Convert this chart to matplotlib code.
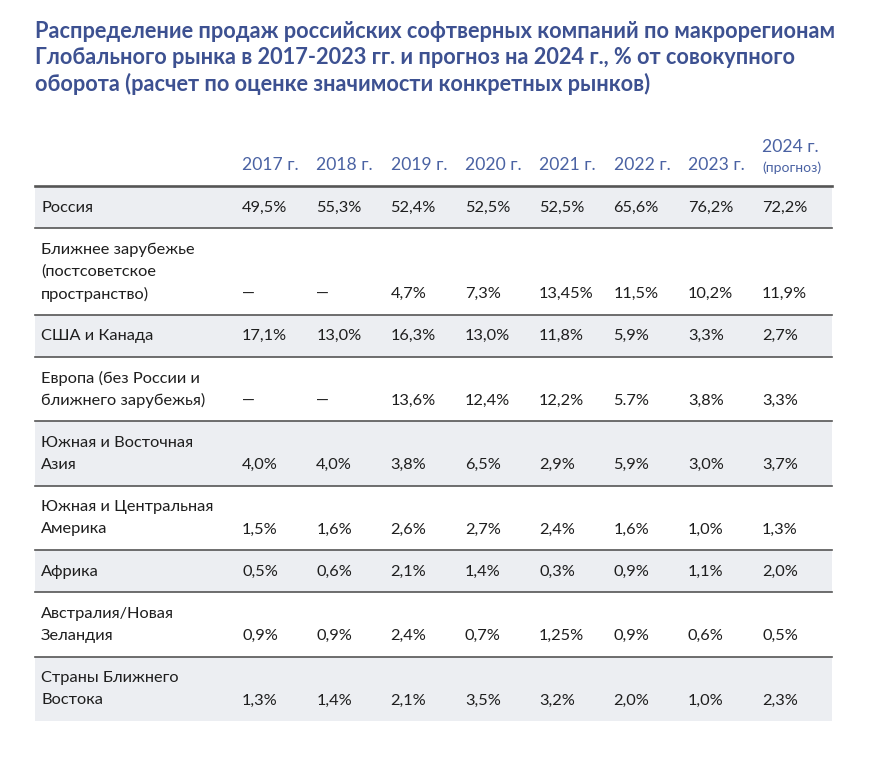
import matplotlib
matplotlib.use("Agg")
import matplotlib.pyplot as plt
from matplotlib.patches import Rectangle

TITLE = ("Распределение продаж российских софтверных компаний по макрорегионам\n"
         "Глобального рынка в 2017-2023 гг. и прогноз на 2024 г., % от совокупного\n"
         "оборота (расчет по оценке значимости конкретных рынков)")

years = ["2017 г.", "2018 г.", "2019 г.", "2020 г.", "2021 г.", "2022 г.", "2023 г.", "2024 г."]
forecast_note = "(прогноз)"

regions = [
    "Россия",
    "Ближнее зарубежье\n(постсоветское\nпространство)",
    "США и Канада",
    "Европа (без России и\nближнего зарубежья)",
    "Южная и Восточная\nАзия",
    "Южная и Центральная\nАмерика",
    "Африка",
    "Австралия/Новая\nЗеландия",
    "Страны Ближнего\nВостока",
]

values = [
    ["49,5%", "55,3%", "52,4%", "52,5%", "52,5%", "65,6%", "76,2%", "72,2%"],
    ["—", "—", "4,7%", "7,3%", "13,45%", "11,5%", "10,2%", "11,9%"],
    ["17,1%", "13,0%", "16,3%", "13,0%", "11,8%", "5,9%", "3,3%", "2,7%"],
    ["—", "—", "13,6%", "12,4%", "12,2%", "5.7%", "3,8%", "3,3%"],
    ["4,0%", "4,0%", "3,8%", "6,5%", "2,9%", "5,9%", "3,0%", "3,7%"],
    ["1,5%", "1,6%", "2,6%", "2,7%", "2,4%", "1,6%", "1,0%", "1,3%"],
    ["0,5%", "0,6%", "2,1%", "1,4%", "0,3%", "0,9%", "1,1%", "2,0%"],
    ["0,9%", "0,9%", "2,4%", "0,7%", "1,25%", "0,9%", "0,6%", "0,5%"],
    ["1,3%", "1,4%", "2,1%", "3,5%", "3,2%", "2,0%", "1,0%", "2,3%"],
]

# layout in pixels
W, H = 872, 758
TABLE_LEFT, TABLE_RIGHT = 35, 832
LABEL_X = 41
COL_X0, COL_STEP = 242, 74.3
HEADER_LINE_Y = 186
LINE_H = 22.2
ROW_PAD = 20

TITLE_COLOR = "#3d5191"
HEAD_COLOR = "#4a62a3"
TEXT_COLOR = "#1e1e1e"
SHADE = "#eceef2"
RULE = "#555555"

body_font = ["Lato", "DejaVu Sans"]

fig = plt.figure(figsize=(W / 100, H / 100), dpi=100)
ax = fig.add_axes([0, 0, 1, 1])
ax.set_xlim(0, W)
ax.set_ylim(H, 0)
ax.axis("off")

ax.text(35, 21, TITLE, ha="left", va="top", fontsize=15.7, fontweight="bold",
        color=TITLE_COLOR, family=body_font, linespacing=1.28)

# header
for j, yr in enumerate(years):
    x = COL_X0 + j * COL_STEP
    if j == len(years) - 1:
        ax.text(x, 147, yr, ha="left", va="center", fontsize=12.6,
                color=HEAD_COLOR, family=body_font)
        ax.text(x, 168, forecast_note, ha="left", va="center", fontsize=10,
                color=HEAD_COLOR, family=body_font)
    else:
        ax.text(x, 165, yr, ha="left", va="center", fontsize=12.6,
                color=HEAD_COLOR, family=body_font)

y = HEADER_LINE_Y
for i, (label, row) in enumerate(zip(regions, values)):
    n = label.count("\n") + 1
    h = LINE_H * n + ROW_PAD
    if i % 2 == 0:
        ax.add_patch(Rectangle((TABLE_LEFT, y), TABLE_RIGHT - TABLE_LEFT, h,
                               facecolor=SHADE, edgecolor="none", zorder=0))
    for k, line in enumerate(label.split("\n")):
        ax.text(LABEL_X, y + 21.5 + LINE_H * k, line, ha="left", va="center",
                fontsize=11.8, color=TEXT_COLOR, family=body_font)
    vy = y + 21.5 + LINE_H * (n - 1)
    for j, v in enumerate(row):
        x = COL_X0 + j * COL_STEP
        ax.text(x, vy, v, ha="left", va="center", fontsize=11.8,
                color=TEXT_COLOR, family=body_font)
    y += h
    if i < len(regions) - 1:
        ax.plot([TABLE_LEFT, TABLE_RIGHT], [y, y], color=RULE, lw=1.2, zorder=2)

ax.plot([TABLE_LEFT, TABLE_RIGHT], [HEADER_LINE_Y, HEADER_LINE_Y], color=RULE,
        lw=1.9, zorder=2)

fig.savefig("out.png", dpi=100, facecolor="white")
